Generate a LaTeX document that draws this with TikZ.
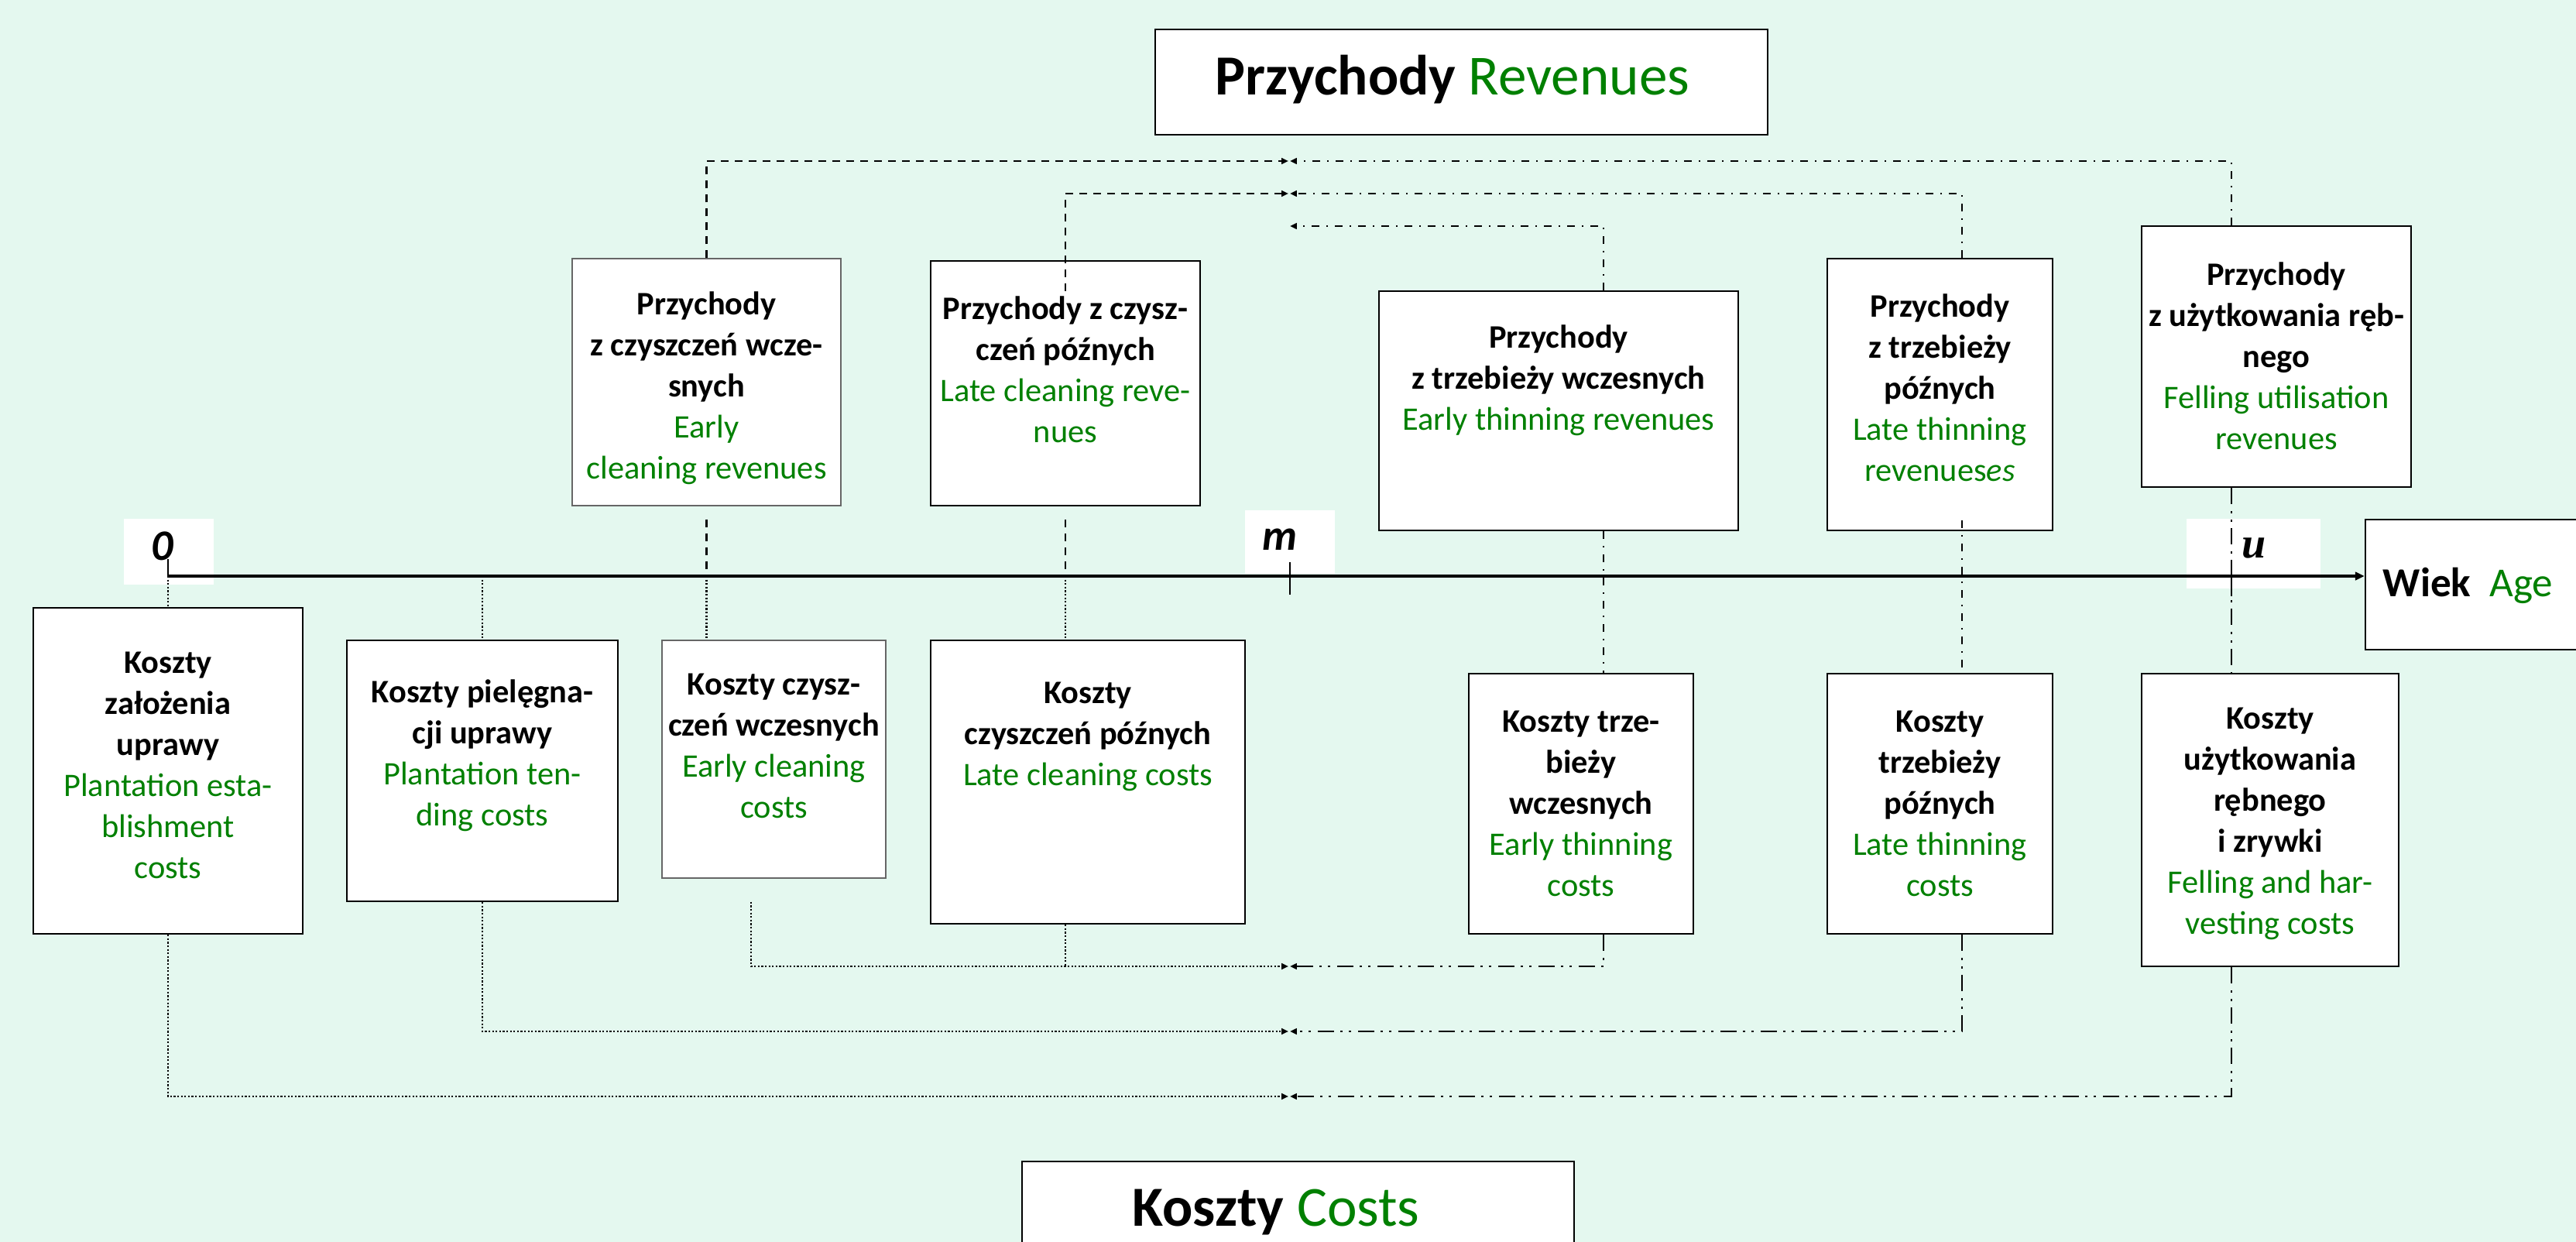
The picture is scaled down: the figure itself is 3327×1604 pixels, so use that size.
\documentclass[tikz,border=0pt]{standalone}
\usepackage{fontspec}
\setmainfont{Carlito}
\newfontfamily\serifu{Liberation Serif}
\usetikzlibrary{arrows.meta,calc}
\definecolor{bgc}{RGB}{228,248,239}
\definecolor{grn}{RGB}{0,128,0}
\newcommand\pb[1]{{\bfseries #1}}
\newcommand\en[1]{{\color{grn}#1}}
\begin{document}
\begin{tikzpicture}[x=0.25pt,y=-0.25pt,
  bx/.style={draw=black, line width=0.6pt, fill=white, inner sep=0pt, rectangle},
  thinbx/.style={bx, draw=black!60, line width=0.35pt},
  lbl/.style={fill=white, inner sep=0pt, rectangle},
  txt/.style={align=center, inner sep=0pt, font=\fontsize{10.6}{13.25}\selectfont},
  conn/.style={line width=0.72pt},
  dashl/.style={conn, dash pattern=on 2.5pt off 2pt},
  dotl/.style={conn, dash pattern=on 0.55pt off 0.6pt},
  dashdotl/.style={conn, dash pattern=on 2.5pt off 2.2pt on 0.6pt off 2.2pt},
  ddotl/.style={conn, dash pattern=on 5.25pt off 2.25pt on 0.75pt off 2pt on 0.75pt off 2pt},
  mtip/.style={-{Triangle[length=2.2pt,width=1.9pt]}},
]
\useasboundingbox (0,0) rectangle (3327,1604);
\clip (0,0) rectangle (3327,1604);
\fill[bgc] (0,0) rectangle (3327,1604);

% label boxes on the axis
\node[lbl, minimum width=29pt, minimum height=21.25pt] (l0) at (218,712.5) {};
\node[lbl, minimum width=29pt, minimum height=20.5pt] (lm) at (1666,700) {};
\node[lbl, minimum width=43.25pt, minimum height=22.5pt] (lu) at (2910.5,715) {};

% title boxes
\node[bx, minimum width=197.75pt, minimum height=34pt] (top) at (1887.5,106) {};
\node[bx, minimum width=178.25pt, minimum height=50pt] (bot) at (1676.5,1600) {};
\node[bx, minimum width=76.25pt, minimum height=42pt] (wiek) at (3207.5,755) {};

% revenue boxes
\node[thinbx, minimum width=86.75pt, minimum height=79.75pt] (r1) at (912.5,493.5) {};
\node[bx, minimum width=87pt, minimum height=79pt] (r2) at (1376,495) {};
\node[bx, minimum width=116pt, minimum height=77.25pt] (r3) at (2013,530.5) {};
\node[bx, minimum width=72.75pt, minimum height=87.75pt] (r4) at (2505.5,509.5) {};
\node[bx, minimum width=87pt, minimum height=84.25pt] (r5) at (2940,460.5) {};

% cost boxes
\node[bx, minimum width=87pt, minimum height=105.25pt] (c1) at (217,995.5) {};
\node[bx, minimum width=87.5pt, minimum height=84.25pt] (c2) at (623,995.5) {};
\node[thinbx, minimum width=72.25pt, minimum height=76.75pt] (c3) at (999.5,980.5) {};
\node[bx, minimum width=101.5pt, minimum height=91.5pt] (c4) at (1405,1010) {};
\node[bx, minimum width=72.5pt, minimum height=84pt] (c5) at (2042,1038) {};
\node[bx, minimum width=72.75pt, minimum height=84pt] (c6) at (2505.5,1038) {};
\node[bx, minimum width=83pt, minimum height=94.5pt] (c7) at (2932,1059) {};

% coordinates
\coordinate (o) at (217,744);
\coordinate (a1) at (912.5,744);
\coordinate (a2) at (1376,744);
\coordinate (t1L) at (912.5,208); \coordinate (t1R) at (2882,208);
\coordinate (t1Ma) at (1664,208); \coordinate (t1Mb) at (1666,208);
\coordinate (t2L) at (1376,250); \coordinate (t2R) at (2534,250);
\coordinate (t2Ma) at (1664,250); \coordinate (t2Mb) at (1666,250);
\coordinate (t3R) at (2071,292); \coordinate (t3M) at (1666,292);
\coordinate (b1L) at (217,1416); \coordinate (b1R) at (2882,1416);
\coordinate (b1Ma) at (1664,1416); \coordinate (b1Mb) at (1666,1416);
\coordinate (b2L) at (623,1332); \coordinate (b2R) at (2534,1332);
\coordinate (b2Ma) at (1664,1332); \coordinate (b2Mb) at (1666,1332);
\coordinate (b3L) at (970,1248); \coordinate (b3R) at (2071,1248);
\coordinate (b3C) at (1376,1248);
\coordinate (b3Ma) at (1664,1248); \coordinate (b3Mb) at (1666,1248);

% revenue brackets
\draw[dashl,mtip] (r1.north) -- (t1L) -- (t1Ma);
\draw[dashdotl,mtip] (r5.north -| t1R) -- (t1R) -- (t1Mb);
\draw[dashl,mtip] ($(r2.north)+(0,40)$) -- (t2L) -- (t2Ma);
\draw[dashdotl,mtip] (r4.north -| t2R) -- (t2R) -- (t2Mb);
\draw[dashdotl,mtip] (r3.north -| t3R) -- (t3R) -- (t3M);

% verticals across the axis
\draw[dashl] ($(r1.south)+(0,17)$) -- (a1);
\draw[dotl] (a1) -- (c3.north -| a1);
\draw[dashl] ($(r2.south)+(0,17)$) -- (a2);
\draw[dotl] (a2) -- (c4.north -| a2);
\draw[dotl] (o) -- (c1.north);
\draw[dotl] (c2.north |- o) -- (c2.north);
\draw[dashdotl] (r3.south -| t3R) -- (c5.north -| t3R);
\draw[dashdotl] ($(r4.south -| t2R)+(0,-14)$) -- (c6.north -| t2R);
\draw[ddotl] (r5.south -| t1R) -- (c7.north -| t1R);

% cost brackets
\draw[dotl,mtip] (c1.south) -- (b1L) -- (b1Ma);
\draw[ddotl,mtip] (c7.south -| b1R) -- (b1R) -- (b1Mb);
\draw[dotl,mtip] (c2.south) -- (b2L) -- (b2Ma);
\draw[ddotl,mtip] (c6.south -| b2R) -- (b2R) -- (b2Mb);
\draw[dotl,mtip] ($(c3.south -| b3L)+(0,30)$) -- (b3L) -- (b3Ma);
\draw[dotl] (c4.south -| b3C) -- (b3C);
\draw[ddotl,mtip] (c5.south -| b3R) -- (b3R) -- (b3Mb);

% axis and ticks
\draw[line width=0.9pt, -{Triangle[length=3pt,width=2.6pt]}] (o) -- (o -| wiek.west);
\draw[line width=0.45pt] (217,722) -- (o);
\draw[line width=0.45pt] (1666,726) -- (1666,768);
\draw[line width=0.45pt] (2882,726) -- (2882,770);

% axis labels
\node[inner sep=0pt] (t0) at (210,705) {\fontsize{14}{16}\selectfont\bfseries\itshape 0};
\node[inner sep=0pt] (tm) at (1653,697) {\fontsize{14}{16}\selectfont\bfseries\itshape m};
\node[inner sep=0pt] (tu) at (2911,708) {\fontsize{14}{16}\selectfont\serifu\bfseries\itshape u};

% titles
\node[inner sep=0pt, anchor=base] (toptxt) at (1876,123) {\fontsize{18.3}{22}\selectfont\pb{Przychody} \en{Revenues}};
\node[inner sep=0pt, anchor=base] (bottxt) at (1648,1583) {\fontsize{18.3}{22}\selectfont\pb{Koszty} \en{Costs}};
\node[inner sep=0pt, anchor=base west] (wiektxt) at (3077,770) {\fontsize{13.3}{16}\selectfont\pb{Wiek}\ \ \en{Age}};

% revenue texts
\node[txt] (r1t) at (912.5,501) {\pb{Przychody}\\\pb{z czyszczeń wcze-}\\\pb{snych}\\\en{Early}\\\en{cleaning revenues}};
\node[txt] (r2t) at (1376,477) {\pb{Przychody z czysz-}\\\pb{czeń późnych}\\\en{Late cleaning reve-}\\\en{nues}};
\node[txt] (r3t) at (2013,491) {\pb{Przychody}\\\pb{z trzebieży wczesnych}\\\en{Early thinning revenues}};
\node[txt] (r4t) at (2505.5,501) {\pb{Przychody}\\\pb{z trzebieży}\\\pb{późnych}\\\en{Late thinning}\\\en{revenues\textit{es}}};
\node[txt] (r5t) at (2940,460) {\pb{Przychody}\\\pb{z użytkowania ręb-}\\\pb{nego}\\\en{Felling utilisation}\\\en{revenues}};

% cost texts
\node[txt] (c1t) at (217,988) {\pb{Koszty}\\\pb{założenia}\\\pb{uprawy}\\\en{Plantation esta-}\\\en{blishment}\\\en{costs}};
\node[txt] (c2t) at (623,976) {\pb{Koszty pielęgna-}\\\pb{cji uprawy}\\\en{Plantation ten-}\\\en{ding costs}};
\node[txt] (c3t) at (999.5,963) {\pb{Koszty czysz-}\\\pb{czeń wczesnych}\\\en{Early cleaning}\\\en{costs}};
\node[txt] (c4t) at (1405,951) {\pb{Koszty}\\\pb{czyszczeń późnych}\\\en{Late cleaning costs}};
\node[txt] (c5t) at (2042,1038) {\pb{Koszty trze-}\\\pb{bieży}\\\pb{wczesnych}\\\en{Early thinning}\\\en{costs}};
\node[txt] (c6t) at (2505.5,1038) {\pb{Koszty}\\\pb{trzebieży}\\\pb{późnych}\\\en{Late thinning}\\\en{costs}};
\node[txt] (c7t) at (2932,1064) {\pb{Koszty}\\\pb{użytkowania}\\\pb{rębnego}\\\pb{i zrywki}\\\en{Felling and har-}\\\en{vesting costs}};
\end{tikzpicture}
\end{document}
